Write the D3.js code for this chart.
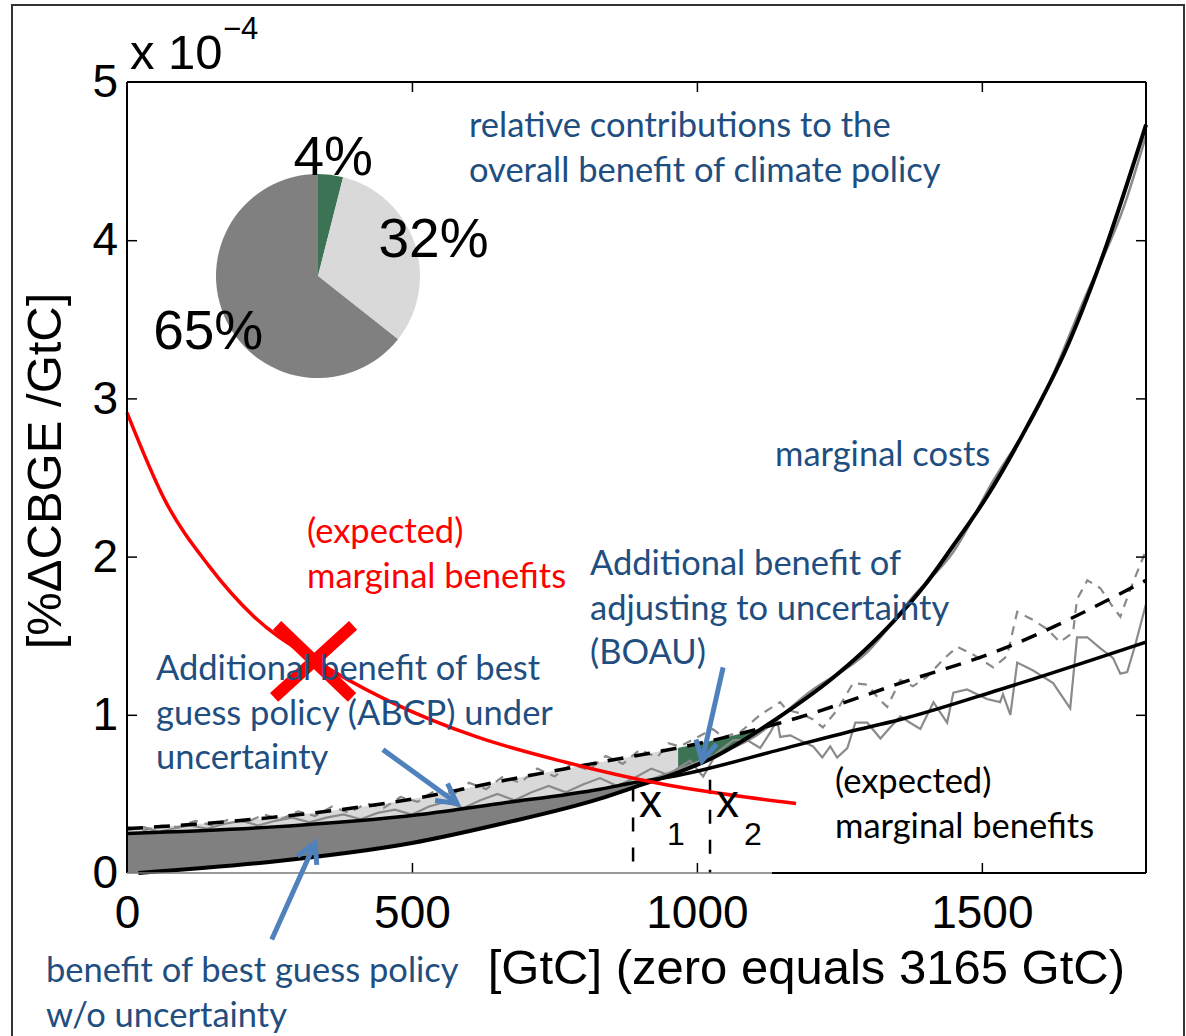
<!DOCTYPE html>
<html>
<head>
<meta charset="utf-8">
<script src="https://cdn.jsdelivr.net/npm/d3@7"></script>
<style>
  html, body { margin: 0; padding: 0; background: #fff; }
  svg { display: block; }
</style>
</head>
<body>
<svg id="chart" width="1186" height="1036"></svg>
<script>
// ---------------- data ----------------
// x: emissions in GtC (zero equals 3165 GtC); y: %ΔCBGE per GtC, in units of 1e-4
const xTicks = [0, 500, 1000, 1500];
const yTicks = [0, 1, 2, 3, 4, 5];

// marginal costs of abatement
const costGtC = [20, 250, 500, 655, 830, 888, 970, 1029, 1146, 1234, 1292, 1345, 1400, 1450, 1509, 1579, 1650, 1708, 1788];
const costVal = [0.0, 0.07, 0.19, 0.31, 0.47, 0.54, 0.64, 0.73, 0.99, 1.22, 1.40, 1.59, 1.82, 2.07, 2.38, 2.82, 3.33, 3.86, 4.73];

// numerical marginal costs (thin grey, under the smooth curve)
const costRawGtC = [888, 1000, 1100, 1200, 1300, 1380, 1450, 1520, 1600, 1680, 1750, 1788];
const costRawVal = [0.55, 0.70, 0.86, 1.15, 1.40, 1.75, 2.03, 2.48, 2.95, 3.63, 4.22, 4.66];

// expected marginal benefits, best guess policy (solid black)
const benefitGtC = [0, 251, 514, 655, 830, 888, 970, 1146, 1264, 1357, 1532, 1788];
const benefitVal = [0.25, 0.29, 0.37, 0.44, 0.53, 0.57, 0.62, 0.78, 0.89, 0.97, 1.16, 1.46];

// expected marginal benefits under uncertainty (dashed black)
const uncertGtC = [0, 251, 520, 655, 830, 1005, 1176, 1357, 1532, 1788];
const uncertVal = [0.28, 0.35, 0.48, 0.58, 0.70, 0.82, 0.98, 1.20, 1.41, 1.85];

// numerical marginal benefits, best guess (solid grey)
const benefitRawGtC = [0, 30, 55, 80, 110, 140, 170, 200, 230, 260, 290, 320, 350, 380, 410, 440, 470, 500, 530, 560, 590, 620, 650, 680, 710, 740, 770, 800, 830, 860, 890, 920, 950,
  970, 988, 1011, 1035, 1064, 1088, 1111, 1129, 1141, 1146, 1164, 1186, 1204, 1220, 1234, 1246, 1264, 1278, 1299, 1322, 1339, 1357, 1374, 1392, 1415, 1439, 1450, 1474, 1509, 1532, 1537, 1550, 1562, 1590, 1625, 1655, 1667, 1685, 1708, 1730, 1743, 1755, 1769, 1788];
const benefitRawVal = [0.27, 0.29, 0.26, 0.28, 0.30, 0.28, 0.31, 0.33, 0.30, 0.33, 0.35, 0.32, 0.35, 0.37, 0.34, 0.38, 0.40, 0.37, 0.42, 0.45, 0.41, 0.46, 0.50, 0.46, 0.51, 0.55, 0.51, 0.56, 0.60, 0.55, 0.60, 0.66, 0.62,
  0.67, 0.71, 0.61, 0.76, 0.84, 0.84, 0.79, 0.89, 0.97, 0.86, 0.87, 0.83, 0.80, 0.73, 0.80, 0.73, 0.79, 0.95, 0.95, 0.85, 0.92, 0.99, 0.95, 0.91, 1.08, 0.95, 1.14, 1.16, 1.10, 1.08, 1.13, 1.00, 1.33, 1.28, 1.20, 1.04, 1.49, 1.49, 1.42, 1.36, 1.26, 1.27, 1.44, 1.70];

// numerical marginal benefits under uncertainty (dashed grey)
const uncertRawGtC = [0, 30, 60, 90, 120, 150, 180, 210, 240, 270, 300, 330, 360, 390, 420, 450, 480, 510, 540, 570, 600, 630, 660, 690, 720, 750, 780, 810, 840, 870, 900, 930, 950,
  970, 1028, 1046, 1076, 1111, 1146, 1158, 1181, 1204, 1221, 1246, 1274, 1299, 1322, 1334, 1357, 1379, 1404, 1432, 1457, 1485, 1520, 1544, 1562, 1590, 1615, 1637, 1660, 1667, 1685, 1708, 1730, 1743, 1760, 1788];
const uncertRawVal = [0.29, 0.27, 0.30, 0.29, 0.33, 0.30, 0.34, 0.32, 0.37, 0.34, 0.39, 0.36, 0.42, 0.38, 0.44, 0.41, 0.48, 0.45, 0.52, 0.49, 0.57, 0.53, 0.61, 0.57, 0.66, 0.61, 0.69, 0.65, 0.74, 0.69, 0.78, 0.73, 0.82,
  0.80, 0.91, 0.86, 0.89, 1.00, 1.08, 1.03, 1.01, 0.97, 0.92, 1.03, 1.20, 1.19, 1.09, 1.05, 1.22, 1.18, 1.24, 1.35, 1.43, 1.38, 1.30, 1.37, 1.65, 1.60, 1.54, 1.46, 1.52, 1.73, 1.85, 1.80, 1.68, 1.62, 1.79, 2.04];

// (expected) marginal benefits in red
const redGtC = [0, 66, 144, 223, 328, 458, 614, 770, 928, 1085, 1174];
const redVal = [2.91, 2.36, 1.94, 1.62, 1.35, 1.09, 0.86, 0.70, 0.57, 0.48, 0.44];

// crossed-out point on the red curve
const crossGtC = 330, crossVal = 1.35;

// optimal emission levels
const x1GtC = 888, x1Top = 0.54;
const x2GtC = 1023, x2Top = 0.59;
// start of the BOAU wedge
const boauStart = 967;

// pie: relative contributions to the overall benefit
const pieLabels = ["4%", "32%", "65%"];
const pieValues = [4, 32, 65];
const pieColors = ["#3c7355", "#d9d9d9", "#808080"];

// arrows: [tailGtC, tailVal, tipGtC, tipVal]
const arrowABCP = [449, 0.78, 579, 0.44];
const arrowBGP = [254, -0.42, 330, 0.19];
const arrowBOAU = [1046, 1.30, 1009, 0.71];

// ---------------- drawing ----------------
const svg = d3.select("#chart");
const pL = 127, pR = 1146, pT = 82, pB = 873;

const x = d3.scaleLinear().domain([0, 1788]).range([pL, pR]);
const y = d3.scaleLinear().domain([0, 5]).range([pB, pT]);

const numFont = "'Liberation Sans', Arial, sans-serif";
const noteFont = "Lato, 'Open Sans', sans-serif";
const noteSize = 34.5;
const blue = "#1f4e80";

// outer frame
svg.append("rect").attr("x", 12).attr("y", 5).attr("width", 1172).attr("height", 1060)
  .attr("fill", "none").attr("stroke", "#333").attr("stroke-width", 2);

const zip = (xs, ys) => xs.map((u, i) => [u, ys[i]]);
const lineGen = d3.line().x(d => x(d[0])).y(d => y(d[1]));
const smooth = d3.line().x(d => x(d[0])).y(d => y(d[1])).curve(d3.curveMonotoneX);

// sample a smooth curve so the shaded regions follow the drawn lines
function sampler(xs, ys) {
  const p = svg.append("path").attr("d", smooth(zip(xs, ys))).attr("fill", "none");
  const node = p.node();
  const L = node.getTotalLength();
  const pts = [];
  for (let s = 0; s <= L; s += 0.5) { const q = node.getPointAtLength(s); pts.push([q.x, q.y]); }
  const e = node.getPointAtLength(L); pts.push([e.x, e.y]);
  p.remove();
  return function (px) {
    if (px <= pts[0][0]) return pts[0][1];
    if (px >= pts[pts.length - 1][0]) return pts[pts.length - 1][1];
    let lo = 0, hi = pts.length - 1;
    while (hi - lo > 1) { const m = (lo + hi) >> 1; if (pts[m][0] <= px) lo = m; else hi = m; }
    const a = pts[lo], b = pts[hi];
    const t = b[0] === a[0] ? 0 : (px - a[0]) / (b[0] - a[0]);
    return a[1] + t * (b[1] - a[1]);
  };
}
const costAt = sampler(costGtC, costVal);
const benAt = sampler(benefitGtC, benefitVal);
const uncAt = sampler(uncertGtC, uncertVal);

const area = d3.area().x(d => d[0]).y0(d => d[1]).y1(d => d[2]);
const plot = svg.append("g");

// benefit of best guess policy w/o uncertainty (dark grey)
const dark = [];
for (let px = x(0); px <= x(x1GtC); px += 1) {
  const lo = px < x(costGtC[0]) ? y(0) : costAt(px);
  dark.push([px, lo, benAt(px)]);
}
plot.append("path").attr("d", area(dark)).attr("fill", "#808080");

// additional benefit of best guess policy under uncertainty (light grey)
const light = [];
for (let px = x(0); px <= x(boauStart); px += 1) {
  const c = px < x(costGtC[0]) ? y(0) : costAt(px);
  light.push([px, Math.min(benAt(px), c), uncAt(px)]);
}
plot.append("path").attr("d", area(light)).attr("fill", "#d9d9d9");

// additional benefit of adjusting to uncertainty (green)
const green = [];
for (let px = x(boauStart); px <= pR; px += 1) {
  const c = costAt(px), u = uncAt(px);
  if (c <= u) { green.push([px, u, u]); break; }
  green.push([px, c, u]);
}
plot.append("path").attr("d", area(green)).attr("fill", "#3c7355");

// grey numerical curves
plot.append("path").attr("d", lineGen(zip(uncertRawGtC, uncertRawVal)))
  .attr("fill", "none").attr("stroke", "#8a8a8a").attr("stroke-width", 2.2)
  .attr("stroke-dasharray", "9,7");
plot.append("path").attr("d", lineGen(zip(benefitRawGtC, benefitRawVal)))
  .attr("fill", "none").attr("stroke", "#8a8a8a").attr("stroke-width", 2.2);
plot.append("path").attr("d", smooth(zip(costRawGtC, costRawVal)))
  .attr("fill", "none").attr("stroke", "#8a8a8a").attr("stroke-width", 2.5);

// black smooth curves
plot.append("path").attr("d", smooth(zip(costGtC, costVal)))
  .attr("fill", "none").attr("stroke", "#000").attr("stroke-width", 4);
plot.append("path").attr("d", smooth(zip(benefitGtC, benefitVal)))
  .attr("fill", "none").attr("stroke", "#000").attr("stroke-width", 3.5);
plot.append("path").attr("d", smooth(zip(uncertGtC, uncertVal)))
  .attr("fill", "none").attr("stroke", "#000").attr("stroke-width", 3.5)
  .attr("stroke-dasharray", "16,11");

// optimal emission markers
[[x1GtC, x1Top], [x2GtC, x2Top]].forEach(([g, v]) => {
  plot.append("line").attr("x1", x(g)).attr("x2", x(g)).attr("y1", y(v)).attr("y2", y(0))
    .attr("stroke", "#000").attr("stroke-width", 2.5).attr("stroke-dasharray", "14,16");
});

// red expected marginal benefits
plot.append("path").attr("d", smooth(zip(redGtC, redVal)))
  .attr("fill", "none").attr("stroke", "#ff0000").attr("stroke-width", 3.5);

// axes box with inward ticks
const axG = svg.append("g");
axG.append("g").attr("transform", `translate(${pL},0)`)
  .call(d3.axisLeft(y).tickValues(yTicks).tickSize(-10).tickPadding(9).tickFormat(d3.format("d")));
axG.append("g").attr("transform", `translate(${pR},0)`)
  .call(d3.axisRight(y).tickValues(yTicks).tickSize(-10).tickFormat(""));
axG.append("g").attr("transform", `translate(0,${pB})`)
  .call(d3.axisBottom(x).tickValues(xTicks).tickSize(-10).tickPadding(22).tickFormat(d3.format("d")));
axG.append("g").attr("transform", `translate(0,${pT})`)
  .call(d3.axisTop(x).tickValues(xTicks).tickSize(-10).tickFormat(""));
axG.selectAll(".domain").remove();
axG.selectAll(".tick line").attr("stroke", "#000").attr("stroke-width", 1.5);
axG.selectAll(".tick text").attr("font-family", numFont).attr("font-size", 46).attr("fill", "#000");
axG.selectAll(".tick").filter(d => d === 0 || d === 5).select("line").remove();

axG.append("line").attr("x1", pL).attr("x2", pL).attr("y1", pT).attr("y2", pB).attr("stroke", "#000").attr("stroke-width", 2);
axG.append("line").attr("x1", pR).attr("x2", pR).attr("y1", pT).attr("y2", pB).attr("stroke", "#000").attr("stroke-width", 2);
axG.append("line").attr("x1", pL).attr("x2", pR).attr("y1", pT).attr("y2", pT).attr("stroke", "#000").attr("stroke-width", 2);
axG.append("line").attr("x1", pL).attr("x2", 772).attr("y1", pB).attr("y2", pB).attr("stroke", "#777").attr("stroke-width", 1.5);
axG.append("line").attr("x1", 772).attr("x2", pR).attr("y1", pB).attr("y2", pB).attr("stroke", "#000").attr("stroke-width", 2);

// exponent
svg.append("text").attr("x", 130).attr("y", 69).attr("font-family", numFont).attr("font-size", 49).text("x 10");
svg.append("text").attr("x", 223).attr("y", 39).attr("font-family", numFont).attr("font-size", 31).text("\u22124");

// axis titles
svg.append("text").attr("transform", "translate(61,471) rotate(-90)").attr("text-anchor", "middle")
  .attr("font-family", numFont).attr("font-size", 49).text("[%\u0394CBGE /GtC]");
svg.append("text").attr("x", 1125).attr("y", 984).attr("text-anchor", "end")
  .attr("font-family", numFont).attr("font-size", 49).text("[GtC] (zero equals 3165 GtC)");

// x1 / x2 labels
function xLabel(g, sub) {
  const px = x(g);
  svg.append("text").attr("x", px + 6).attr("y", 817).attr("font-family", numFont).attr("font-size", 46).text("x");
  svg.append("text").attr("x", px + 34).attr("y", 845).attr("font-family", numFont).attr("font-size", 32).text(sub);
}
xLabel(x1GtC, "1");
xLabel(x2GtC, "2");

// pie inset
const pieG = svg.append("g").attr("transform", "translate(318,276)");
const arcs = d3.pie().sort(null).value(d => d)(pieValues);
const arcGen = d3.arc().innerRadius(0).outerRadius(102);
const labelArc = d3.arc().innerRadius(122).outerRadius(122);
pieG.selectAll("path.slice").data(arcs).join("path").attr("class", "slice")
  .attr("d", arcGen).attr("fill", (d, i) => pieColors[i]);
pieG.selectAll("text").data(arcs).join("text")
  .attr("transform", d => `translate(${labelArc.centroid(d)})`)
  .attr("text-anchor", "middle").attr("dy", "0.36em")
  .attr("font-family", numFont).attr("font-size", 55).text((d, i) => pieLabels[i]);

// notes
function note(lines, px, py, color) {
  lines.forEach((t, i) => {
    svg.append("text").attr("x", px).attr("y", py + i * 44.5).attr("font-family", noteFont)
      .attr("font-size", noteSize).attr("fill", color).text(t);
  });
}
note(["relative contributions to the", "overall benefit of climate policy"], 469, 137, blue);
note(["marginal costs"], 775, 466, blue);
note(["(expected)", "marginal benefits"], 307, 543, "#ff0000");
note(["Additional benefit of", "adjusting to uncertainty", "(BOAU)"], 590, 575, blue);
note(["(expected)", "marginal benefits"], 835, 793, "#000");
note(["benefit of best guess policy", "w/o uncertainty"], 46, 982, blue);

// red cross over the red curve
const cx = x(crossGtC), cy = y(crossVal);
svg.append("line").attr("x1", cx - 38).attr("y1", cy - 34).attr("x2", cx + 37).attr("y2", cy + 38)
  .attr("stroke", "#ff0000").attr("stroke-width", 12);
svg.append("line").attr("x1", cx + 38).attr("y1", cy - 34).attr("x2", cx - 41).attr("y2", cy + 38)
  .attr("stroke", "#ff0000").attr("stroke-width", 12);

note(["Additional benefit of best", "guess policy (ABCP) under", "uncertainty"], 156, 680, blue);

// blue arrows
function arrow(a) {
  const x0 = x(a[0]), y0 = y(a[1]), x1 = x(a[2]), y1 = y(a[3]);
  const ang = Math.atan2(y1 - y0, x1 - x0);
  const g = svg.append("g").attr("stroke", "#4f81bd").attr("stroke-width", 5).attr("stroke-linecap", "butt").attr("fill", "none");
  g.append("line").attr("x1", x0).attr("y1", y0).attr("x2", x1 - 2 * Math.cos(ang)).attr("y2", y1 - 2 * Math.sin(ang));
  const len = 22, spread = 0.5;
  const pts = [
    [x1 - len * Math.cos(ang - spread), y1 - len * Math.sin(ang - spread)],
    [x1, y1],
    [x1 - len * Math.cos(ang + spread), y1 - len * Math.sin(ang + spread)]
  ];
  g.append("path").attr("d", d3.line()(pts)).attr("stroke-linejoin", "miter");
}
arrow(arrowABCP);
arrow(arrowBGP);
arrow(arrowBOAU);
</script>
</body>
</html>
